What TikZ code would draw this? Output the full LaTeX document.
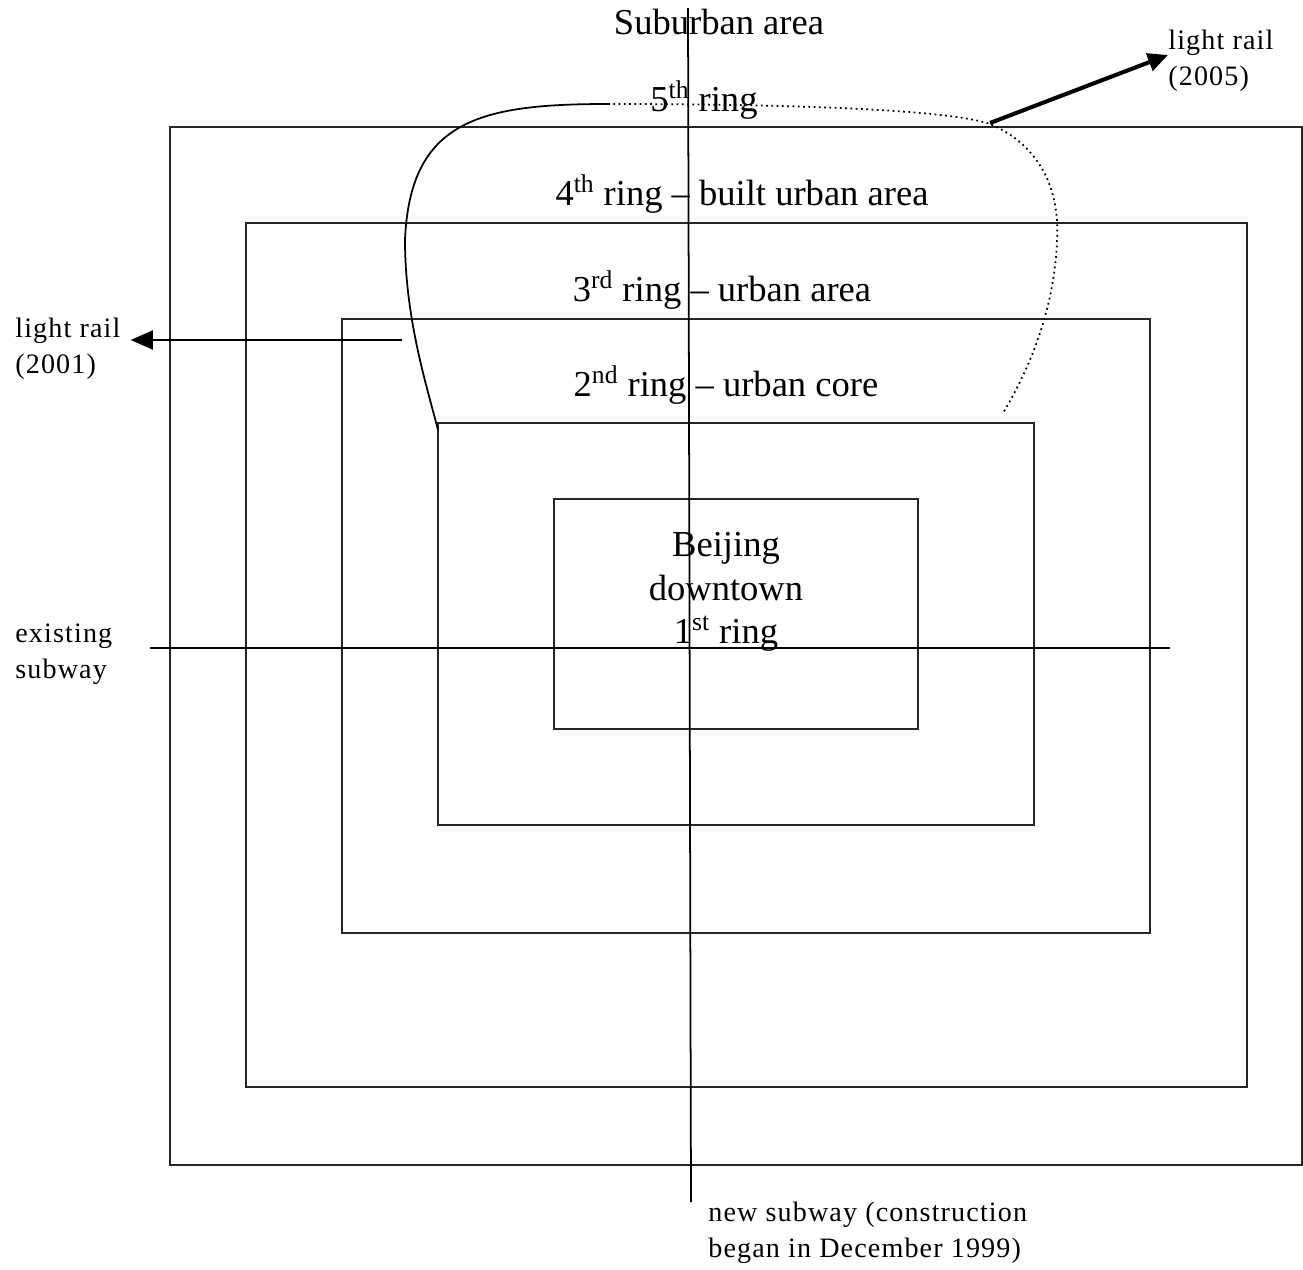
\documentclass[tikz,border=0pt]{standalone}
\usepackage{fontspec}
\setmainfont{Liberation Serif}
\newfontfamily\notefont[LetterSpace=4]{Liberation Serif}
\usetikzlibrary{arrows.meta, positioning}

\begin{document}
\begin{tikzpicture}[x=0.2mm, y=-0.2mm,
    ringbox/.style={draw=black!85, line width=1pt},
    ringlabel/.style={inner sep=0pt, align=center, font=\fontsize{20.8}{24.8}\selectfont},
    notelabel/.style={inner sep=0pt, align=left, anchor=north west, font=\notefont\fontsize{16}{20}\selectfont},
    axis/.style={draw=black, line width=1pt},
    arr/.style={draw=black, line width=1pt, -{Triangle[length=4.4mm, width=3.8mm]}},
    thickarr/.style={draw=black, line width=2.3pt, -{Triangle[length=4mm, width=3.6mm]}},
    railsolid/.style={draw=black, line width=1pt},
    raildotted/.style={draw=black, line width=1pt, dotted}
]
    \useasboundingbox (0,0) rectangle (1303,1270);

    % Rings, outermost first
    \draw [ringbox] (170,127) rectangle (1302,1165);
    \draw [ringbox] (246,223) rectangle (1247,1087);
    \draw [ringbox] (342,319) rectangle (1150,933);
    \draw [ringbox] (438,423) rectangle (1034,825);
    \draw [ringbox] (554,499) rectangle (918,729);

    % Subway lines
    \coordinate (newtop) at (688,8);
    \coordinate (newbot) at (691,1202);
    \coordinate (oldwest) at (150,648);
    \coordinate (oldeast) at (1170,648);
    \draw [axis] (newtop) -- (newbot);
    \draw [axis] (oldwest) -- (oldeast);

    % Light rail loop (solid part built, dotted part planned)
    \coordinate (loopjoin) at (608,104);
    \coordinate (loopwest) at (438,430);
    \coordinate (loopeast) at (1003,413);
    \draw [railsolid] (loopjoin) .. controls (480,104) and (410,120) .. (405,240)
        .. controls (405,320) and (428,390) .. (loopwest);
    \draw [raildotted] (loopjoin) .. controls (800,104) and (950,110) .. (990,124)
        .. controls (1040,145) and (1060,190) .. (1057,240)
        .. controls (1055,300) and (1035,360) .. (loopeast);

    % Labels
    \node (suburb) [ringlabel] at (719,22) {Suburban area};
    \node (ring5) [ringlabel] at (704,100) {5\textsuperscript{th} ring};
    \node (ring4) [ringlabel] at (742,194) {4\textsuperscript{th} ring -- built urban area};
    \node (ring3) [ringlabel] at (722,290) {3\textsuperscript{rd} ring -- urban area};
    \node (ring2) [ringlabel] at (726,385) {2\textsuperscript{nd} ring -- urban core};
    \node (ring1) [ringlabel] at (726,592) {Beijing\\downtown\\1\textsuperscript{st} ring};

    \node (rail2001) [notelabel] at (15,318) {light rail\\(2001)};
    \node (rail2005) [notelabel] at (1168,30) {light rail\\(2005)};
    \node (oldsubway) [notelabel] at (15,624) {existing\\subway};
    \node (newsubway) [notelabel] at (708,1202) {new subway (construction\\began in December 1999)};

    % Arrows
    \coordinate (rail2001from) at (402,340);
    \coordinate (rail2005from) at (990,123);
    \draw [arr] (rail2001from) -- ([xshift=2mm]rail2001.east |- rail2001from);
    \draw [thickarr] (rail2005from) -- ([yshift=-5mm]rail2005.north west);
\end{tikzpicture}
\end{document}
